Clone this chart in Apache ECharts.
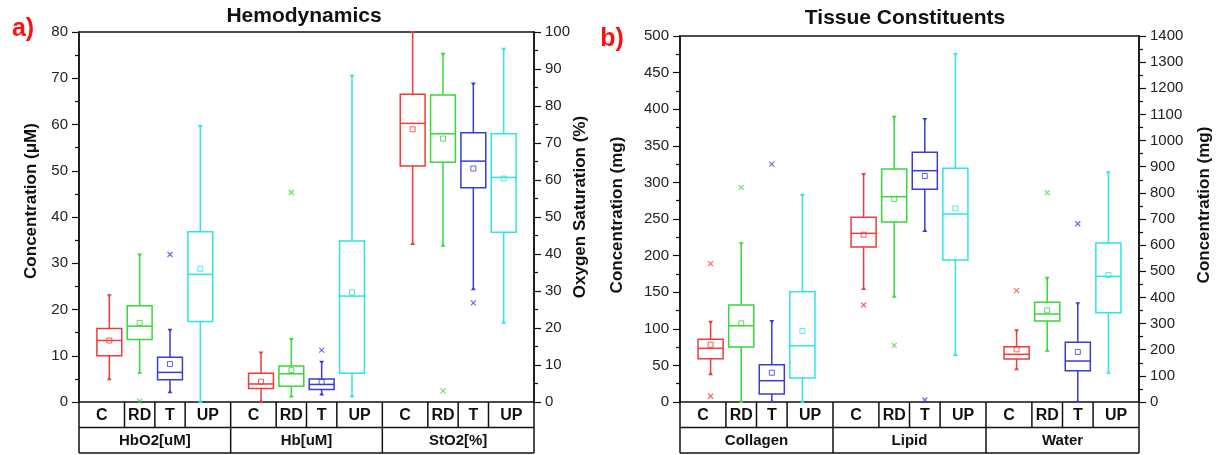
<!DOCTYPE html>
<html>
<head>
<meta charset="utf-8">
<script src="https://cdn.jsdelivr.net/npm/echarts@6/dist/echarts.min.js"></script>
<style>
html,body{margin:0;padding:0;background:#fff;}
#main{width:1218px;height:455px;}
</style>
</head>
<body>
<div id="main"></div>
<script>
// ---------- data ----------
const catLabels = ['C', 'RD', 'T', 'UP'];
const catColors = ['#ee3b3b', '#3ad63a', '#3b3bd6', '#2ee4e4'];

// Panel a: Hemodynamics  -- box rows are [min, Q1, median, Q3, max] for C, RD, T, UP
const groupsA = ['HbO2[uM]', 'Hb[uM]', 'StO2[%]'];
const hbo2Box = [[4.9, 10.0, 13.3, 15.9, 23.1], [6.3, 13.5, 16.4, 20.8, 31.9], [2.1, 4.8, 6.4, 9.7, 15.6], [0, 17.4, 27.6, 36.8, 59.7]];
const hbo2Mean = [13.3, 17.1, 8.2, 28.8];
const hbo2Outliers = [[], [0.2], [31.9], []];
const hbBox = [[0.1, 2.9, 3.9, 6.2, 10.7], [1.2, 3.4, 6.1, 7.8, 13.6], [1.6, 2.7, 3.8, 5.0, 8.7], [1.2, 6.2, 22.9, 34.8, 70.6]];
const hbMean = [4.4, 6.9, 4.3, 23.7];
const hbOutliers = [[], [45.3], [11.2], []];
const sto2Box = [[42.7, 63.8, 75.3, 83.2, 100], [42.2, 64.8, 72.5, 83.0, 94.1], [30.5, 57.9, 65.1, 72.8, 86.1], [21.4, 45.9, 60.7, 72.5, 95.5]];
const sto2Mean = [73.7, 71.2, 63.1, 60.4];
const sto2Outliers = [[], [3.0], [26.8], []];

// Panel b: Tissue Constituents
const groupsB = ['Collagen', 'Lipid', 'Water'];
const collagenBox = [[37.8, 59.2, 73.3, 85.6, 109.7], [0, 75.1, 104.2, 132.5, 216.8], [0.5, 10.9, 29.1, 51.0, 110.7], [0, 32.8, 76.9, 150.7, 282.8]];
const collagenMean = [78.3, 107.5, 40.0, 97.0];
const collagenOutliers = [[189, 7.8], [293.3], [325], []];
const lipidBox = [[154.4, 211.7, 230.4, 252.3, 311.5], [143.9, 245.9, 280.5, 318.3, 389.8], [233.6, 290.6, 316.0, 341.1, 386.6], [64.2, 194.0, 256.8, 319.3, 475.4]];
const lipidMean = [228.6, 277.3, 308.7, 264.6];
const lipidOutliers = [[132.5], [77.4], [2.7], []];
const waterBox = [[125, 164.5, 182.4, 211.6, 274.2], [196.3, 309.8, 336.6, 381.3, 475.5], [0, 119.9, 156.8, 228.4, 377.5], [112, 341.6, 480.7, 608.2, 878.6]];
const waterMean = [201.5, 350.6, 191.3, 485.8];
const waterOutliers = [[425.8], [800.7], [682], []];

// axis ranges / ticks
const yA_left = {min: 0, max: 80, interval: 10};
const yA_right = {min: 0, max: 100, interval: 10};
const yB_left = {min: 0, max: 500, interval: 50};
const yB_right = {min: 0, max: 1400, interval: 100};

// ---------- chart ----------
const FONT = '"Liberation Sans", Arial, sans-serif';
const chart = echarts.init(document.getElementById('main'), null, {renderer: 'canvas'});

function renderBox(params, api) {
  const x = api.value(0);
  const c = catColors[api.value(6)];
  const p = i => api.coord([x, api.value(i)]);
  const lo = p(1), q1 = p(2), md = p(3), q3 = p(4), hi = p(5);
  const w = api.size([0.82, 0])[0];
  const h = w / 2;
  const cx = lo[0];
  const ls = {stroke: c, lineWidth: 1.5, fill: null};
  return {
    type: 'group',
    children: [
      {type: 'line', shape: {x1: cx, y1: hi[1], x2: cx, y2: q3[1]}, style: ls},
      {type: 'line', shape: {x1: cx, y1: q1[1], x2: cx, y2: lo[1]}, style: ls},
      {type: 'rect', shape: {x: cx - h, y: q3[1], width: w, height: q1[1] - q3[1]}, style: {stroke: c, lineWidth: 1.5, fill: 'rgba(0,0,0,0)'}},
      {type: 'line', shape: {x1: cx - h, y1: md[1], x2: cx + h, y2: md[1]}, style: ls},
      {type: 'polygon', shape: {points: [[cx - 2.5, hi[1] - 1], [cx + 2.5, hi[1] - 1], [cx, hi[1] + 2.5]]}, style: {fill: c}},
      {type: 'polygon', shape: {points: [[cx - 2.5, lo[1] + 1], [cx + 2.5, lo[1] + 1], [cx, lo[1] - 2.5]]}, style: {fill: c}}
    ]
  };
}

const series = [];
function addGroup(g, box, mean, outs, xIdx, yIdx) {
  series.push({
    type: 'custom', xAxisIndex: xIdx, yAxisIndex: yIdx, silent: true,
    renderItem: renderBox,
    encode: {x: 0, y: [1, 2, 3, 4, 5]},
    data: box.map((b, k) => [g * 5 + k + 1].concat(b).concat([k]))
  });
  series.push({
    type: 'scatter', xAxisIndex: xIdx, yAxisIndex: yIdx, silent: true,
    symbol: 'rect', symbolSize: 5, z: 3,
    data: mean.map((m, k) => ({value: [g * 5 + k + 1, m], itemStyle: {color: 'rgba(255,255,255,0)', borderColor: catColors[k], borderWidth: 1, opacity: 0.8}}))
  });
  const od = [];
  outs.forEach((arr, k) => arr.forEach(v => od.push({value: [g * 5 + k + 1, v], itemStyle: {color: catColors[k], borderColor: catColors[k], borderWidth: 1.2, opacity: 0.75}})));
  series.push({
    type: 'scatter', xAxisIndex: xIdx, yAxisIndex: yIdx, silent: true,
    symbol: 'path://M0,0L10,10M10,0L0,10', symbolSize: 5, z: 3,
    data: od
  });
}
addGroup(0, hbo2Box, hbo2Mean, hbo2Outliers, 0, 0);
addGroup(1, hbBox, hbMean, hbOutliers, 0, 0);
addGroup(2, sto2Box, sto2Mean, sto2Outliers, 0, 1);
addGroup(0, collagenBox, collagenMean, collagenOutliers, 1, 2);
addGroup(1, lipidBox, lipidMean, lipidOutliers, 1, 2);
addGroup(2, waterBox, waterMean, waterOutliers, 1, 3);

function yAxis(gridIndex, pos, r) {
  return {
    type: 'value', gridIndex: gridIndex, position: pos,
    min: r.min, max: r.max, interval: r.interval,
    axisLine: {show: true, lineStyle: {color: '#111', width: 1.5}},
    axisTick: {show: true, length: 7, lineStyle: {color: '#111', width: 1.2}},
    minorTick: {show: true, splitNumber: 2, length: 4, lineStyle: {color: '#111', width: 1.2}},
    splitLine: {show: false},
    axisLabel: {color: '#222', fontSize: 15, fontFamily: FONT, margin: 11, formatter: v => String(v)}
  };
}
function xAxis(gridIndex) {
  return {type: 'value', gridIndex: gridIndex, min: 0, max: 15, interval: 1, show: false};
}

chart.setOption({
  animation: false,
  backgroundColor: '#fff',
  grid: [
    {left: 79, right: 684, top: 32, bottom: 53, show: true, borderColor: '#111', borderWidth: 1.5, backgroundColor: 'rgba(0,0,0,0)'},
    {left: 680, right: 79, top: 36, bottom: 53, show: true, borderColor: '#111', borderWidth: 1.5, backgroundColor: 'rgba(0,0,0,0)'}
  ],
  xAxis: [xAxis(0), xAxis(1)],
  yAxis: [yAxis(0, 'left', yA_left), yAxis(0, 'right', yA_right), yAxis(1, 'left', yB_left), yAxis(1, 'right', yB_right)],
  series: series
});

// ---------- table of category labels, titles, axis names ----------
const gfx = [];
function txt(str, x, y, font, color, rot) {
  gfx.push({
    type: 'text', x: x, y: y, rotation: rot || 0, silent: true,
    style: {text: str, x: 0, y: 0, font: font, fill: color || '#111', align: 'center', verticalAlign: 'middle', textAlign: 'center', textVerticalAlign: 'middle'}
  });
}
function line(x1, y1, x2, y2) {
  gfx.push({type: 'line', silent: true, shape: {x1: x1, y1: y1, x2: x2, y2: y2}, style: {stroke: '#111', lineWidth: 1.5}});
}
function table(xIdx, yIdx, groups) {
  const X = v => chart.convertToPixel({xAxisIndex: xIdx}, v);
  const y0 = chart.convertToPixel({yAxisIndex: yIdx}, 0);
  const rh = 25.5;
  line(X(0), y0 + rh, X(15), y0 + rh);
  line(X(0), y0 + 2 * rh, X(15), y0 + 2 * rh);
  [0, 5, 10, 15].forEach(v => line(X(v), y0, X(v), y0 + 2 * rh));
  const cuts = [0, 1.5, 2.5, 3.5, 5];
  groups.forEach((name, g) => {
    [1.5, 2.5, 3.5].forEach(c => line(X(g * 5 + c), y0, X(g * 5 + c), y0 + rh));
    catLabels.forEach((lab, k) => {
      const cx = (X(g * 5 + cuts[k]) + X(g * 5 + cuts[k + 1])) / 2;
      txt(lab, cx, y0 + rh / 2 + 1, 'bold 16px ' + FONT);
    });
    txt(name, X(g * 5 + 2.5), y0 + 1.5 * rh + 1, 'bold 15px ' + FONT);
  });
}
table(0, 0, groupsA);
table(1, 2, groupsB);

txt('Hemodynamics', 304, 16, 'bold 21px ' + FONT, '#111');
txt('Tissue Constituents', 905, 18, 'bold 21px ' + FONT, '#111');
txt('a)', 23, 29, 'bold 25px ' + FONT, '#ff1010');
txt('b)', 612, 39, 'bold 25px ' + FONT, '#ff1010');
txt('Concentration (\u03bcM)', 31, 201, 'bold 17px ' + FONT, '#111', Math.PI / 2);
txt('Oxygen Saturation (%)', 580, 207, 'bold 17px ' + FONT, '#111', Math.PI / 2);
txt('Concentration (mg)', 617, 215, 'bold 17px ' + FONT, '#111', Math.PI / 2);
txt('Concentration (mg)', 1204, 205, 'bold 17px ' + FONT, '#111', Math.PI / 2);

chart.setOption({graphic: {elements: gfx}});
</script>
</body>
</html>
